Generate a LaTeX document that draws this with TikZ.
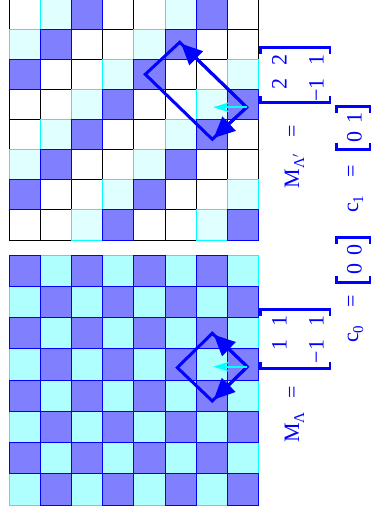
\documentclass[tikz,border=0pt]{standalone}
\usepackage{fontspec}
\setmainfont{Liberation Serif}
\usepackage{tikz}
\usetikzlibrary{arrows.meta,calc}
\definecolor{cellblue}{HTML}{8080FF}
\definecolor{palecyan}{HTML}{E0FFFF}
\definecolor{softcyan}{HTML}{B0FFFF}
\definecolor{pureblue}{HTML}{0000FF}
\definecolor{purecyan}{HTML}{00FFFF}

\begin{document}
\begin{tikzpicture}[x=1pt,y=-1pt,every node/.style={inner sep=0pt,text=pureblue},eqtext/.style={rotate=90,font=\fontsize{22}{26}\selectfont},plaincell/.style={fill=white,draw=black,line width=1pt},palecell/.style={fill=palecyan,draw=purecyan,line width=1pt},softcell/.style={fill=softcyan,draw=purecyan,line width=1pt},bluecell/.style={fill=cellblue,draw=pureblue,line width=1pt},latticebox/.style={draw=pureblue,line width=3pt},basisvec/.style={draw=pureblue,line width=3pt,shorten >=2pt,-{Triangle[length=21pt,width=19pt]}},shiftvec/.style={draw=purecyan,line width=2.2pt,-{Stealth[length=16pt,width=10pt]}},brk/.style={draw=pureblue,line width=2.8pt}]
\useasboundingbox (0,0) rectangle (371,516);
% upper lattice, period four
\begin{scope}[shift={(9.3,-0.8)},x=31.17pt,y=-30.1pt]
\foreach \k/\cellsty in {0/plaincell,3/plaincell,1/palecell,2/bluecell}
  \foreach \c in {0,...,7}
    \foreach \r in {0,...,7}{
      \pgfmathtruncatemacro\m{mod(\c+\r,4)}
      \ifnum\m=\k \draw[\cellsty] (\c,\r) rectangle ++(1,1); \fi
    }
\end{scope}
% lower lattice, checkerboard
\begin{scope}[shift={(9.3,255)},x=31.17pt,y=-31.25pt]
\foreach \k/\cellsty in {1/softcell,0/bluecell}
  \foreach \c in {0,...,7}
    \foreach \r in {0,...,7}{
      \pgfmathtruncatemacro\m{mod(\c+\r,2)}
      \ifnum\m=\k \draw[\cellsty] (\c,\r) rectangle ++(1,1); \fi
    }
\end{scope}
% basis of the upper lattice
\coordinate (oB) at (246.7,107.3);
\coordinate (uB) at (179.7,42.3);
\coordinate (vB) at (212.3,139.3);
\coordinate (wB) at ($(uB)+(vB)-(oB)$);
\coordinate (sB) at (213.3,107.3);
\draw[latticebox] (oB) -- (uB) -- (wB) -- (vB) -- cycle;
\draw[basisvec] (oB) -- (uB);
\draw[basisvec] (oB) -- (vB);
\draw[shiftvec] (oB) -- (sB);
% basis of the lower lattice
\coordinate (oA) at (247.3,366.7);
\coordinate (uA) at (212.3,333.3);
\coordinate (vA) at (212.3,401);
\coordinate (wA) at ($(uA)+(vA)-(oA)$);
\coordinate (sA) at (213.3,366.7);
\draw[latticebox] (oA) -- (uA) -- (wA) -- (vA) -- cycle;
\draw[basisvec] (oA) -- (uA);
\draw[basisvec] (oA) -- (vA);
\draw[shiftvec] (oA) -- (sA);
% equations
\node[eqtext,anchor=base west] (labB) at (299,188.3) {M\raisebox{-5pt}{\fontsize{15}{15}\selectfont Λ$'$}\hspace{17pt}=};
\node[eqtext,anchor=base west] (labA) at (299,443) {M\raisebox{-5pt}{\fontsize{15}{15}\selectfont Λ}\hspace{14pt}=};
\node[eqtext,anchor=base west] (labC1) at (358,213) {c\raisebox{-5pt}{\fontsize{15}{15}\selectfont 1}\hspace{18pt}=};
\node[eqtext,anchor=base west] (labC0) at (358,343) {c\raisebox{-5pt}{\fontsize{15}{15}\selectfont 0}\hspace{18pt}=};
\node[eqtext,anchor=base east] (mB1) at (286.5,54) {2\hspace{13pt}2};
\node[eqtext,anchor=base east] (mB2) at (323.5,54) {−1\hspace{13pt}1};
\node[eqtext,anchor=base east] (mA1) at (286.5,315.5) {1\hspace{13pt}1};
\node[eqtext,anchor=base east] (mA2) at (323.5,315.5) {−1\hspace{13pt}1};
\node[eqtext,anchor=base east] (vC1) at (361.5,112) {0\hspace{8.5pt}1};
\node[eqtext,anchor=base east] (vC0) at (361.5,244) {0\hspace{8.5pt}0};
% brackets
\node[rotate=90,minimum width=54.3pt,minimum height=69pt] (brB) at (295.2,75.2) {};
\node[rotate=90,minimum width=58pt,minimum height=69pt] (brA) at (295.2,339) {};
\node[rotate=90,minimum width=42pt,minimum height=33.5pt] (brC1) at (353.3,128) {};
\node[rotate=90,minimum width=44pt,minimum height=33.5pt] (brC0) at (353.3,260) {};
\foreach \b in {brA,brB,brC0,brC1}{
  \draw[brk] ($(\b.north west)!6.5pt!(\b.north east)$) -- (\b.north west) -- (\b.south west) -- ($(\b.south west)!6.5pt!(\b.south east)$);
  \draw[brk] ($(\b.north east)!6.5pt!(\b.north west)$) -- (\b.north east) -- (\b.south east) -- ($(\b.south east)!6.5pt!(\b.south west)$);
}
\end{tikzpicture}
\end{document}
